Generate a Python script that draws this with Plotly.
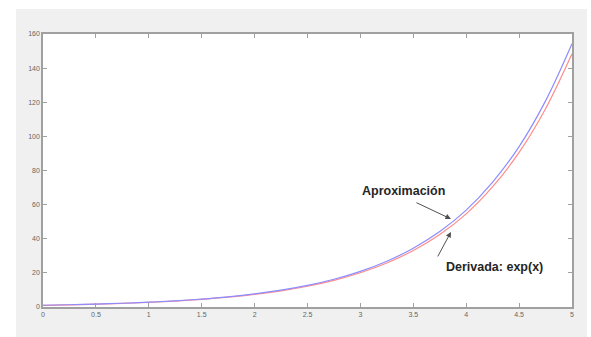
import plotly.graph_objects as go

# Data
x_vals = [0, 0.25, 0.5, 0.75, 1, 1.25, 1.5, 1.75, 2, 2.25, 2.5, 2.75, 3,
          3.25, 3.5, 3.75, 4, 4.25, 4.5, 4.75, 5]
aprox_vals = [1.04, 1.33, 1.72, 2.20, 2.83, 3.63, 4.66, 5.98, 7.69, 9.87, 12.67,
              16.27, 20.89, 26.82, 34.44, 44.22, 56.8, 73.2, 94.0, 120.8, 154.3]
deriv_vals = [1.00, 1.28, 1.65, 2.12, 2.72, 3.49, 4.48, 5.75, 7.39, 9.49, 12.18,
              15.64, 20.09, 25.79, 33.12, 42.52, 54.6, 70.5, 90.6, 116.2, 148.4]
x_ticks = [0, 0.5, 1, 1.5, 2, 2.5, 3, 3.5, 4, 4.5, 5]
x_tick_labels = ["0", "0.5", "1", "1.5", "2", "2.5", "3", "3.5", "4", "4.5", "5"]
y_ticks = [0, 20, 40, 60, 80, 100, 120, 140, 160]
y_tick_labels = ["0", "20", "40", "60", "80", "100", "120", "140", "160"]

fig = go.Figure()
fig.add_trace(go.Scatter(x=x_vals, y=deriv_vals, mode="lines",
                         line=dict(color="#ff8c8c", width=1.2, shape="spline"),
                         name="Derivada: exp(x)"))
fig.add_trace(go.Scatter(x=x_vals, y=aprox_vals, mode="lines",
                         line=dict(color="#8c8cff", width=1.2, shape="spline"),
                         name="Aproximación"))

W, H = 591, 337
L, R, T, B = 43, 19, 34, 30
pw, ph = W - L - R, H - T - B

def px(p):
    return (p - L) / pw

def py(p):
    return (H - B - p) / ph

shapes = [
    dict(type="rect", xref="paper", yref="paper", x0=px(0), x1=px(16), y0=py(H), y1=py(0),
         fillcolor="white", line=dict(width=0), layer="below"),
    dict(type="rect", xref="paper", yref="paper", x0=px(0), x1=px(W), y0=py(9), y1=py(0),
         fillcolor="white", line=dict(width=0), layer="below"),
    dict(type="rect", xref="paper", yref="paper", x0=px(587), x1=px(W), y0=py(H), y1=py(0),
         fillcolor="white", line=dict(width=0), layer="below"),
]

axis_common = dict(showgrid=False, zeroline=False, showline=True, linecolor="#a0a0a0",
                   linewidth=1.5, mirror="ticks", ticks="inside", ticklen=4,
                   tickcolor="#a0a0a0", tickwidth=1,
                   tickfont=dict(family="Liberation Sans", size=7, color="#666666"))

fig.update_layout(
    width=W, height=H,
    margin=dict(l=L, r=R, t=T, b=B),
    paper_bgcolor="#f0f0f0", plot_bgcolor="white",
    showlegend=False,
    shapes=shapes,
    xaxis=dict(range=[0, 5], tickvals=x_ticks, ticktext=x_tick_labels, **axis_common),
    yaxis=dict(range=[0, 160], tickvals=y_ticks, ticktext=y_tick_labels, **axis_common),
    annotations=[
        dict(x=3.856, y=51.6, xref="x", yref="y", text="", showarrow=True,
             ax=-36, ay=-17, arrowhead=2, arrowsize=1.1, arrowwidth=1, arrowcolor="#505050"),
        dict(x=3.856, y=44.0, xref="x", yref="y", text="", showarrow=True,
             ax=-14, ay=26, arrowhead=2, arrowsize=1.1, arrowwidth=1, arrowcolor="#505050"),
        dict(x=3.412, y=68.0, xref="x", yref="y", text="<b>Aproximación</b>", showarrow=False,
             font=dict(family="Liberation Sans", size=12.5, color="#262626")),
        dict(x=4.263, y=23.4, xref="x", yref="y", text="<b>Derivada: exp(x)</b>", showarrow=False,
             font=dict(family="Liberation Sans", size=12.5, color="#262626")),
    ],
)

fig.write_html("out.html")
